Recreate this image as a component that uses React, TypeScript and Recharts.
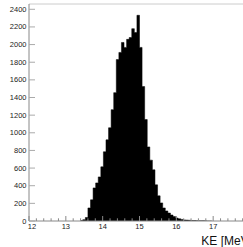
import { ComposedChart, Area, XAxis, YAxis, ReferenceLine } from "recharts";

// bin low edges (MeV), last value is the upper edge of the final bin
const binEdges = [
  13.39, 13.46, 13.53, 13.6, 13.67, 13.74, 13.81, 13.88, 13.95, 14.02,
  14.09, 14.16, 14.23, 14.3, 14.37, 14.44, 14.51, 14.58, 14.65, 14.72,
  14.79, 14.86, 14.93, 15.0, 15.07, 15.14, 15.21, 15.28, 15.35, 15.42,
  15.49, 15.56, 15.63, 15.7, 15.77, 15.84, 15.91, 15.98, 16.05, 16.12,
  16.19, 16.26, 16.33, 16.4, 16.47, 16.54, 16.61, 16.68, 16.75, 16.82,
  16.89, 16.96,
];
const binCounts = [
  5, 15, 40, 148, 240, 375, 432, 500, 614, 785,
  920, 1057, 1262, 1455, 1830, 1911, 2024, 1968, 2059, 2080,
  2180, 2137, 2332, 1968, 1524, 1150, 840, 690, 580, 410,
  285, 205, 148, 114, 90, 68, 50, 34, 25, 18,
  12, 10, 8, 6, 5, 4, 3, 4, 2, 1,
  1, 0,
];

const xTicks = [
  12, 12.2, 12.4, 12.6, 12.8, 13, 13.2, 13.4, 13.6, 13.8, 14, 14.2, 14.4, 14.6, 14.8,
  15, 15.2, 15.4, 15.6, 15.8, 16, 16.2, 16.4, 16.6, 16.8, 17, 17.2, 17.4, 17.6, 17.8,
];
const majorX = [12, 13, 14, 15, 16, 17];
const yTicks = [0, 200, 400, 600, 800, 1000, 1200, 1400, 1600, 1800, 2000, 2200, 2400];
const yMax = 2460;
const xTitle = "KE [MeV]";

const FONT = "'Liberation Sans', Arial, Helvetica, sans-serif";

const data = binEdges.map((e, i) => ({ x: e, n: binCounts[i] }));

function XTick(props: any) {
  const { x, y, payload } = props;
  const v = payload.value;
  const major = majorX.some((m) => Math.abs(m - v) < 1e-6);
  return (
    <g>
      <line x1={x} x2={x} y1={y} y2={y - (major ? 5 : 2.7)} stroke="#888" strokeWidth={1} />
      {major && (
        <text
          x={v === 12 ? x + 3 : x}
          y={y + 7.5}
          textAnchor="middle"
          fontSize={7.5}
          fill="#222"
          fontFamily={FONT}
        >
          {v}
        </text>
      )}
    </g>
  );
}

function YTick(props: any) {
  const { x, y, payload } = props;
  return (
    <g>
      <line x1={x} x2={x + 6} y1={y} y2={y} stroke="#aaa" strokeWidth={1} />
      <text x={x - 2.5} y={y + 2.5} textAnchor="end" fontSize={7.5} fill="#222" fontFamily={FONT}>
        {payload.value}
      </text>
    </g>
  );
}

export default function App() {
  return (
    <div
      style={{
        position: "fixed",
        left: 0,
        top: 0,
        width: 243,
        height: 247,
        overflow: "hidden",
        background: "#fff",
      }}
    >
      <ComposedChart
        width={260}
        height={247}
        data={data}
        margin={{ top: 4, right: 10, left: 0, bottom: 0 }}
      >
        <XAxis
          type="number"
          dataKey="x"
          domain={[12, 18]}
          ticks={xTicks}
          interval={0}
          allowDataOverflow
          height={26}
          tickSize={0}
          tickMargin={0}
          tickLine={false}
          axisLine={{ stroke: "#888", strokeWidth: 1 }}
          tick={<XTick />}
          label={{
            value: xTitle,
            position: "insideBottomRight",
            offset: 0,
            dx: 2,
            dy: -2,
            fontSize: 12,
            fill: "#111",
            fontFamily: FONT,
          }}
        />
        <YAxis
          type="number"
          domain={[0, yMax]}
          ticks={yTicks}
          interval={0}
          allowDataOverflow
          width={29}
          tickSize={0}
          tickMargin={0}
          tickLine={false}
          axisLine={{ stroke: "#888", strokeWidth: 1 }}
          tick={<YTick />}
        />
        <ReferenceLine y={yMax} stroke="#ccc" strokeWidth={1} ifOverflow="extendDomain" />
        <Area
          type="stepAfter"
          dataKey="n"
          stroke="#000"
          strokeWidth={0.5}
          fill="#000"
          fillOpacity={1}
          baseValue={0}
          dot={false}
          activeDot={false}
          isAnimationActive={false}
        />
      </ComposedChart>
    </div>
  );
}
